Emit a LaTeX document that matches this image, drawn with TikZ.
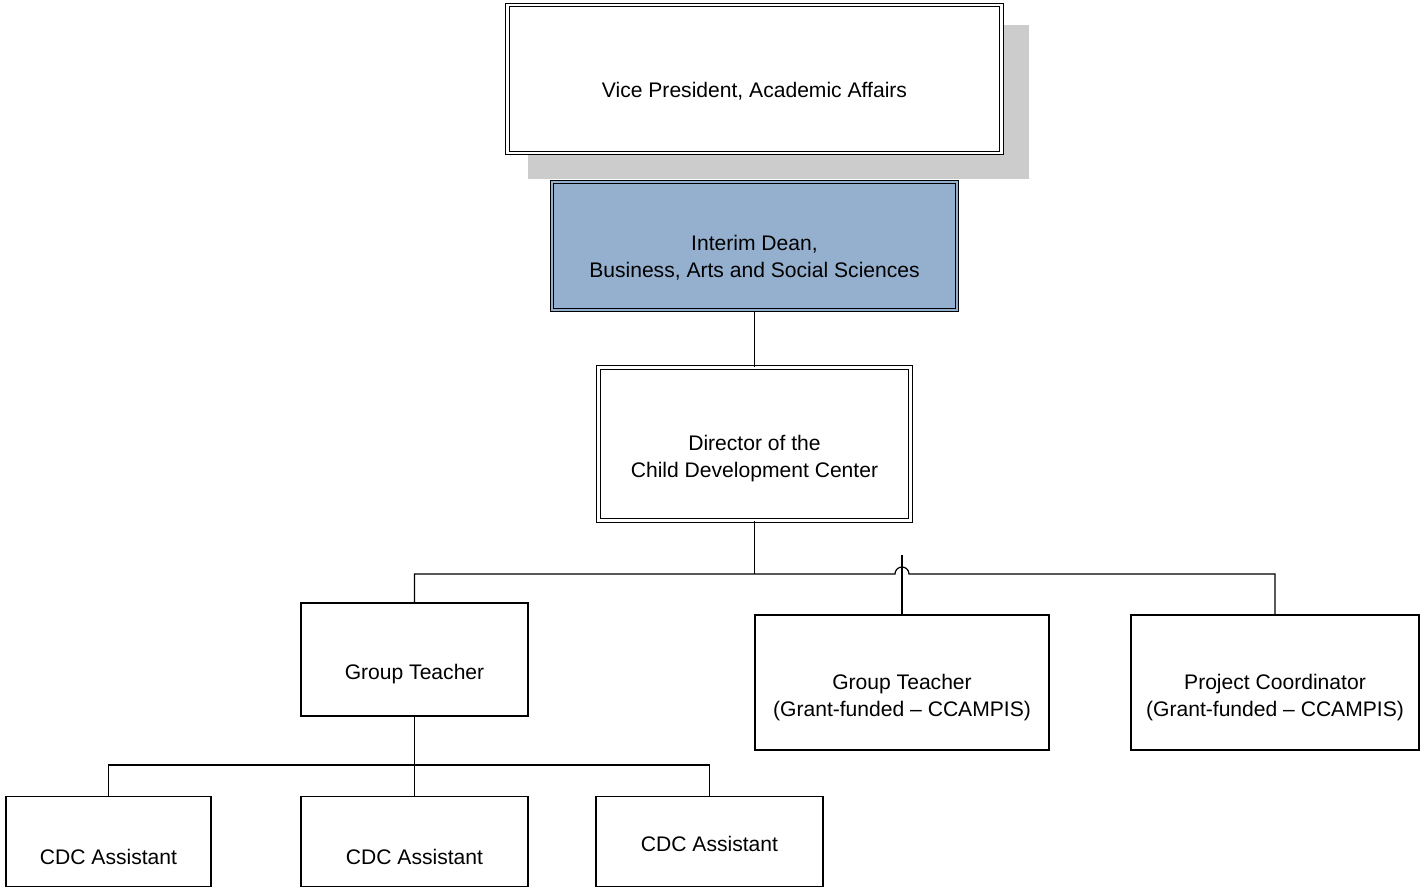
\documentclass[tikz,border=0pt]{standalone}
\usepackage{fontspec}
\setmainfont{Liberation Sans}
\usepackage{tikz}
\usetikzlibrary{calc}
\definecolor{deanblue}{RGB}{149,176,207}
\definecolor{shadowgray}{RGB}{204,204,204}

\begin{document}
\begin{tikzpicture}[x=0.02cm,y=-0.02cm,
    box/.style={draw,line width=0.8pt,inner sep=0pt},
    dbox/.style={draw,line width=0.75pt,double,double distance=1.3pt,inner sep=0pt},
    txt/.style={align=center,font=\fontsize{12}{15.4}\selectfont,yshift=-0.3cm},
    conn/.style={line width=0.7pt}]
    \def\pxl{0.02cm}
    \useasboundingbox (0,0) rectangle (1421,888);
    % Shadow behind the top box
    \fill[shadowgray] (528,25) rectangle (1029,179);
    % Double framed boxes
    \node[dbox,fill=white,minimum width=494*\pxl,minimum height=148*\pxl,
        label={[txt,yshift=0.06cm]center:Vice President, Academic Affairs}] (vp) at (754.5,79) {};
    \node[dbox,double=deanblue,fill=deanblue,minimum width=405*\pxl,minimum height=128*\pxl,
        label={[txt,yshift=0.06cm]center:{Interim Dean,\\Business, Arts and Social Sciences}}] (dean) at (754.5,246) {};
    \node[dbox,minimum width=312*\pxl,minimum height=153*\pxl,
        label={[txt]center:{Director of the\\Child Development Center}}] (dir) at (754.5,444) {};
    % Staff boxes
    \node[box,minimum width=227*\pxl,minimum height=113*\pxl,
        label={[txt]center:Group Teacher}] (gt) at (414.5,659.5) {};
    \node[box,minimum width=294*\pxl,minimum height=135*\pxl,
        label={[txt]center:{Group Teacher\\(Grant-funded -- CCAMPIS)}}] (gtg) at (902,682.5) {};
    \node[box,minimum width=288*\pxl,minimum height=135*\pxl,
        label={[txt]center:{Project Coordinator\\(Grant-funded -- CCAMPIS)}}] (pc) at (1275,682.5) {};
    \node[box,minimum width=205*\pxl,minimum height=90*\pxl,
        label={[txt]center:CDC Assistant}] (cdc1) at (108.5,841.5) {};
    \node[box,minimum width=227*\pxl,minimum height=90*\pxl,
        label={[txt]center:CDC Assistant}] (cdc2) at (414.5,841.5) {};
    \node[box,minimum width=227*\pxl,minimum height=90*\pxl,
        label={[txt,yshift=0.26cm]center:CDC Assistant}] (cdc3) at (709.5,841.5) {};
    % Connectors
    \coordinate (bus) at (754.5,574);
    \coordinate (lowbus) at (414.5,765);
    \coordinate (gtgtop) at (902,555);
    \draw[conn] (dean.south) -- (dir.north);
    \draw[conn] (dir.south) -- (bus);
    \draw[conn] (gt.north) |- (895,574) arc[start angle=180,end angle=0,radius=7*\pxl]
        -- (1275,574) -- (pc.north);
    \draw[conn] (gtgtop) -- (gtg.north);
    \draw[conn] (gt.south) -- (cdc2.north);
    \draw[conn] (cdc1.north) |- (lowbus) -| (cdc3.north);
\end{tikzpicture}
\end{document}
